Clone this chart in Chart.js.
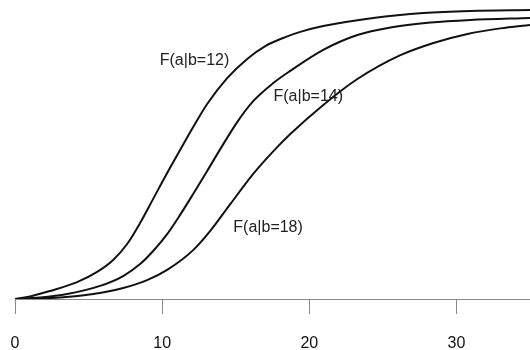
<!DOCTYPE html>
<html>
<head>
<meta charset="utf-8">
<script src="https://cdn.jsdelivr.net/npm/chart.js@4/dist/chart.umd.min.js"></script>
<style>
html,body{margin:0;padding:0;background:#fff;}
#wrap{width:530px;height:350px;}
</style>
</head>
<body>
<div id="wrap"><canvas id="c" width="530" height="350"></canvas></div>
<script>
// Curve b=12
const xs12 = [0, 1.02, 2.38, 4.22, 5.58, 6.67, 7.62, 8.50, 9.39, 10.34, 11.22, 12.11, 13.06, 14.42, 15.78, 17.01, 18.37, 19.39, 20.95, 24.35, 27.76, 30.95, 35];
const ys12 = [0, 0.0086, 0.0275, 0.058, 0.093, 0.134, 0.189, 0.261, 0.344, 0.433, 0.512, 0.591, 0.670, 0.759, 0.825, 0.869, 0.900, 0.918, 0.938, 0.966, 0.983, 0.990, 0.993];
// Curve b=14
const xs14 = [0, 1.70, 3.54, 5.78, 7.35, 8.50, 9.39, 10.34, 11.22, 12.11, 13.06, 13.95, 15.10, 16.19, 17.55, 18.71, 20.95, 23.27, 25.51, 28.23, 30.95, 35];
const ys14 = [0, 0.005, 0.017, 0.045, 0.079, 0.120, 0.165, 0.223, 0.289, 0.361, 0.440, 0.515, 0.608, 0.680, 0.742, 0.784, 0.856, 0.907, 0.933, 0.950, 0.959, 0.966];
// Curve b=18
const xs18 = [0, 3.06, 5.31, 7.35, 8.98, 10.34, 12.11, 13.27, 14.63, 16.19, 17.69, 18.71, 20.95, 23.27, 26.19, 28.44, 30.75, 32.99, 35];
const ys18 = [0, 0.005, 0.017, 0.038, 0.065, 0.100, 0.168, 0.234, 0.326, 0.430, 0.515, 0.567, 0.667, 0.756, 0.838, 0.880, 0.911, 0.930, 0.942];

const tickValues = [0, 10, 20, 30];
const labelTexts = ["F(a|b=12)", "F(a|b=14)", "F(a|b=18)"];
const labelX = [12.2, 19.93, 17.2];
const labelY = [0.820, 0.694, 0.245];

function pts(xs, ys){ return xs.map((x,i)=>({x:x, y:ys[i]})); }

const curveStyle = {borderColor:'#111', borderWidth:2, pointRadius:0, fill:false, cubicInterpolationMode:'monotone'};

const labelPlugin = {
  id:'curveLabels',
  afterDatasetsDraw(chart){
    const ctx = chart.ctx;
    const xS = chart.scales.x, yS = chart.scales.y;
    ctx.save();
    ctx.font = '16px "Liberation Sans", Arial, sans-serif';
    ctx.fillStyle = '#222';
    ctx.textAlign = 'center';
    ctx.textBaseline = 'middle';
    labelTexts.forEach((t,i)=>{
      ctx.fillText(t, xS.getPixelForValue(labelX[i]), yS.getPixelForValue(labelY[i]));
    });
    ctx.restore();
  }
};

new Chart(document.getElementById('c'), {
  type:'line',
  data:{
    datasets:[
      Object.assign({label:labelTexts[0], data:pts(xs12, ys12)}, curveStyle),
      Object.assign({label:labelTexts[1], data:pts(xs14, ys14)}, curveStyle),
      Object.assign({label:labelTexts[2], data:pts(xs18, ys18)}, curveStyle)
    ]
  },
  options:{
    responsive:false,
    animation:false,
    layout:{padding:{left:15, right:0, top:0, bottom:0}},
    plugins:{legend:{display:false}, tooltip:{enabled:false}},
    scales:{
      x:{
        type:'linear', min:0, max:35,
        afterBuildTicks(scale){ scale.ticks = tickValues.map(v=>({value:v})); },
        afterFit(scale){ scale.paddingLeft = 0; scale.paddingRight = 0; scale.height = 51; },
        grid:{display:true, drawOnChartArea:false, drawTicks:true, tickLength:15, color:'#888', lineWidth:1},
        border:{display:true, color:'#888', width:1},
        ticks:{color:'#111', padding:20, maxRotation:0, font:{family:'"Liberation Sans", Arial, sans-serif', size:16}}
      },
      y:{
        type:'linear', min:0, max:1.0275, display:false
      }
    }
  },
  plugins:[labelPlugin]
});
</script>
</body>
</html>
